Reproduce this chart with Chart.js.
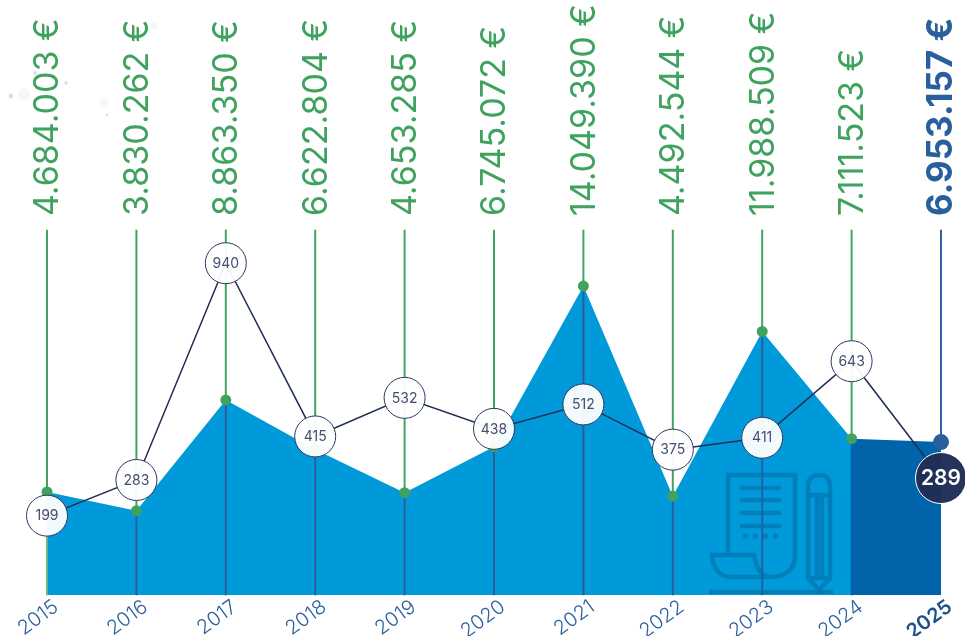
<!DOCTYPE html>
<html>
<head>
<meta charset="utf-8">
<style>
  html, body { margin: 0; padding: 0; background: #fff; overflow: hidden; }
  #wrap { position: relative; width: 965px; height: 636px; }
  #icon { position: absolute; left: 0; top: 0; pointer-events: none; }
</style>
</head>
<body>
<div id="wrap">
  <canvas id="chart" width="965" height="636"></canvas>
  <!-- watermark icon over the area, plus the faint specks of the source image -->
  <svg id="icon" width="965" height="636" fill="none" stroke="#006fa8" stroke-opacity="0.62" stroke-width="4.5">
    <path d="M728 555V475H795V555C795 570 785 577 771 577H731C719 577 712 566 712 555H754C756 562 756 566 759 570C762 574 766 577 771 577"/>
    <path d="M742 488H779M742 500H779M742 513H779M742 526H779" stroke-linecap="round"/>
    <path d="M743 536H748M753 536H758M763 536H768M773 536H778"/>
    <path d="M808 578V486C808 478 813 475 819 475C825 475 830 478 830 486V578L819 590L808 578ZM808 495H830M817 495V578M822 495V578M808 578H830"/>
    <path d="M711 592H831" stroke-linecap="round"/>
    <g fill="#c3d0ec" stroke="none">
      <circle cx="11" cy="96" r="2.2" fill-opacity="0.8"/>
      <circle cx="24" cy="95" r="6" fill-opacity="0.18"/>
      <circle cx="35" cy="73" r="2" fill-opacity="0.7"/>
      <circle cx="66" cy="83" r="1.8" fill-opacity="0.7"/>
      <circle cx="104" cy="103" r="5" fill-opacity="0.18"/>
      <circle cx="107" cy="115" r="1.2" fill-opacity="0.7"/>
      <circle cx="154" cy="26" r="3.5" fill-opacity="0.2"/>
    </g>
  </svg>
</div>
<script src="https://cdn.jsdelivr.net/npm/chart.js@4/dist/chart.umd.min.js"></script>
<script>
const years = ['2015', '2016', '2017', '2018', '2019', '2020', '2021', '2022', '2023', '2024', '2025']
const revenue = [4684003, 3830262, 8863350, 6622804, 4653285, 6745072, 14049390, 4492544, 11988509, 7111523, 6953157]
const revenueLabels = ['4.684.003 €', '3.830.262 €', '8.863.350 €', '6.622.804 €', '4.653.285 €', '6.745.072 €', '14.049.390 €', '4.492.544 €', '11.988.509 €', '7.111.523 €', '6.953.157 €']
const countLabels = ['199', '283', '940', '415', '532', '438', '512', '375', '411', '643', '289']
// bubble heights: same as the labels, except 2015 which the source draws lower than 199 would sit
const countLevels = [175, 283, 940, 415, 532, 438, 512, 375, 411, 643, 289]

const REVENUE_MAX = 16600000
const GREEN = '#3fa25e'
const BLUE = '#2a5f9e'
const NAVY = '#1f2d56'
const LIGHT_AREA = '#0099da'
const DARK_AREA = '#0064aa'
const last = years.length - 1

// ── STEMS ───────────────────────────────────────
const upperStems = revenue.map(v => [v, REVENUE_MAX])
const lowerStems = revenue.map((v, i) => i < last ? [0, v] : null)
const upperColors = years.map((y, i) => i === last ? BLUE : GREEN)
// 2024 uses the dark area colour, it only closes the seam between the two fills
const lowerColors = years.map((y, i) => i === 0 ? '#62b77f' : i === last - 1 ? DARK_AREA : '#2c5c9c')

// the tick labels must not push the plot area in
const noAxisPadding = s => {
  s.paddingLeft = 0
  s.paddingRight = 0
}

// ── BUBBLE TEXT ─────────────────────────────────
const bubbleText = {
  id: 'bubbleText',
  afterDatasetsDraw(chart) {
    const ctx = chart.ctx
    const points = chart.getDatasetMeta(4).data
    ctx.save()
    ctx.textAlign = 'center'
    ctx.textBaseline = 'middle'
    points.forEach((p, i) => {
      ctx.fillStyle = i === last ? '#ffffff' : '#444e70'
      ctx.font = i === last ? '600 21px Inter' : '400 14px Inter'
      ctx.fillText(countLabels[i], p.x, p.y + 0.5)
    })
    ctx.restore()
  }
}

new Chart(document.getElementById('chart').getContext('2d'), {
  data: {
    labels: years,
    datasets: [
      {
        type: 'line',
        data: revenue,
        yAxisID: 'y',
        order: 6,
        fill: 'origin',
        tension: 0,
        borderWidth: 0,
        pointRadius: 0,
        backgroundColor: LIGHT_AREA,
        segment: {
          backgroundColor: c => c.p0DataIndex === last - 1 ? DARK_AREA : LIGHT_AREA
        }
      },
      {
        type: 'bar',
        data: lowerStems,
        yAxisID: 'y',
        order: 5,
        grouped: false,
        barThickness: 1.3,
        backgroundColor: lowerColors,
        clip: false
      },
      {
        type: 'bar',
        data: upperStems,
        yAxisID: 'y',
        order: 4,
        grouped: false,
        barThickness: 1.3,
        backgroundColor: upperColors,
        clip: false
      },
      {
        type: 'line',
        data: revenue,
        yAxisID: 'y',
        order: 3,
        showLine: false,
        pointRadius: years.map((y, i) => i === last ? 8 : 5.5),
        pointBorderWidth: 0,
        pointBackgroundColor: upperColors,
        clip: false
      },
      {
        type: 'line',
        data: countLevels,
        yAxisID: 'y2',
        order: 1,
        tension: 0,
        borderColor: NAVY,
        borderWidth: 1.5,
        pointRadius: years.map((y, i) => i === last ? 25.5 : 20.5),
        pointBorderWidth: 1,
        pointBorderColor: years.map((y, i) => i === last ? '#ffffff' : '#2b3760'),
        pointBackgroundColor: years.map((y, i) => i === last ? 'rgba(31,45,86,0.97)' : 'rgba(255,255,255,0.95)'),
        clip: false
      }
    ]
  },
  options: {
    responsive: false,
    animation: false,
    layout: { autoPadding: false, padding: { left: 47, right: 24, top: 0, bottom: 0 } },
    plugins: { legend: { display: false }, tooltip: { enabled: false } },
    scales: {
      x: {
        type: 'category',
        position: 'bottom',
        offset: false,
        grid: { display: false, drawTicks: false },
        border: { display: false },
        afterFit: s => {
          s.height = 41
          noAxisPadding(s)
        },
        ticks: {
          autoSkip: false,
          minRotation: 36,
          maxRotation: 36,
          padding: 0,
          labelOffset: 9,
          color: ctx => ctx.index === last ? '#1d4f8c' : BLUE,
          font: ctx => ({ family: 'Inter', size: 20, weight: ctx.index === last ? '600' : '300' })
        }
      },
      x2: {
        type: 'category',
        axis: 'x',
        position: 'top',
        labels: revenueLabels,
        offset: false,
        grid: { display: false, drawTicks: false },
        border: { display: false },
        afterFit: s => {
          s.height = 230
          noAxisPadding(s)
        },
        ticks: {
          autoSkip: false,
          minRotation: 90,
          maxRotation: 90,
          padding: 14,
          labelOffset: 42,
          color: upperColors,
          font: ctx => ({ family: 'Inter', size: ctx.index === last ? 35 : 34, weight: ctx.index === last ? '700' : '400' })
        }
      },
      y: { display: false, min: 0, max: REVENUE_MAX },
      y2: { display: false, min: -65.5, max: 1040.6 }
    }
  },
  plugins: [bubbleText]
})
</script>
</body>
</html>
